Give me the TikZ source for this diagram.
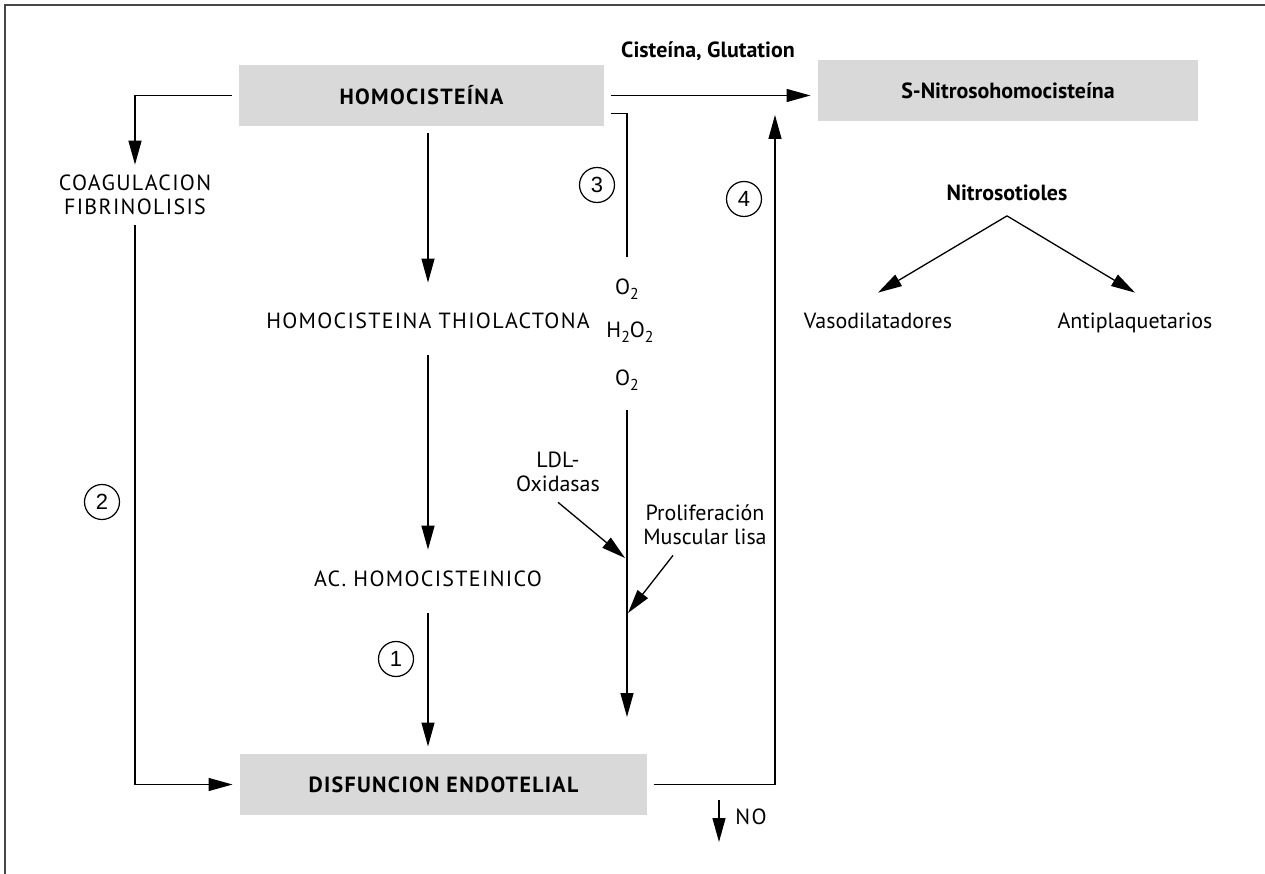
\documentclass[tikz,border=0pt]{standalone}
\usepackage{fontspec}
\setmainfont{PT Sans}
\newfontfamily\capsfont{PT Sans}[LetterSpace=6]
\newfontfamily\numfont{Liberation Sans}
\usepackage{xcolor}
\usetikzlibrary{positioning, arrows.meta}
\definecolor{boxgray}{RGB}{217,217,217}
\definecolor{framegray}{RGB}{70,70,70}
\newcommand{\subtwo}{\raisebox{-0.45ex}{\fontsize{9}{9}\selectfont 2}}

\begin{document}
\begin{tikzpicture}[
    x=0.02cm, y=-0.02cm,
    every node/.style={font=\fontsize{12.5}{13.7}\selectfont},
    box/.style={rectangle, fill=boxgray, minimum height=1.22cm, outer sep=0.15cm,
                font=\capsfont\fontsize{12.5}{13.7}\selectfont\bfseries},
    txt/.style={align=center, inner xsep=0.08cm, inner ysep=0.2cm},
    one/.style={txt, text height=9pt, text depth=3pt},
    caps/.style={font=\capsfont\fontsize{12.5}{13.7}\selectfont},
    bold/.style={font=\fontsize{12.5}{13.7}\selectfont\bfseries},
    num/.style={circle, draw, line width=0.7pt, minimum size=0.7cm, inner sep=0pt,
                font=\numfont\fontsize{12.5}{14}\selectfont},
    arr/.style={-{Triangle[length=4.8mm, width=2.6mm]}, line width=0.75pt},
    line/.style={line width=0.75pt},
    frame/.style={line width=1.1pt, draw=framegray},
]
\useasboundingbox (0,0) rectangle (1265,874);
\draw[frame] (5,874) -- (5,5) -- (1265,5);

% Row 1: Homocisteina and its nitroso form
\node[box, minimum width=7.3cm] (hcy) at (421.5,95.5) {HOMOCISTEÍNA};
\node[box, minimum width=7.6cm, font=\fontsize{12.5}{13.7}\selectfont\bfseries] (snh) at (1008,90.5) {S-Nitrosohomocisteína};
\node[one, bold] (cis) at (708,52) {Cisteína, Glutation};

% Left branch
\node[txt, caps] (coag) at (135,195) {COAGULACION\\FIBRINOLISIS};

% Middle chain
\node[one, caps] (thio) at (428,323) {HOMOCISTEINA THIOLACTONA};
\node[one, caps] (achc) at (428,581) {AC. HOMOCISTEINICO};

% Oxygen species
\node[one] (o2a) at (627,289) {O\subtwo};
\node[one] (h2o2) at (630,332) {H\subtwo O\subtwo};
\node[one] (o2b) at (627,380) {O\subtwo};
\node[txt] (ldl) at (558,472) {LDL-\\Oxidasas};
\node[txt] (prol) at (705,525) {Proliferación\\Muscular lisa};
\coordinate (pin1) at (625,558);
\coordinate (pin2) at (628,613);

% Nitrosotioles
\node[one, bold] (nitro) at (1007,195) {Nitrosotioles};
\node[one] (vaso) at (878,323) {Vasodilatadores};
\node[one] (anti) at (1135,323) {Antiplaquetarios};

% Bottom
\node[box, minimum width=8.14cm] (dis) at (443.5,784.5) {DISFUNCION ENDOTELIAL};
\node[one, caps] (no) at (751,819) {NO};
\coordinate (notop) at (719,800);
\coordinate (nobot) at (719,842);
\coordinate (s4) at (775,115);

% Numbers
\node[num] (c1) at (396,659) {1};
\node[num] (c2) at (102,502) {2};
\node[num] (c3) at (597,185) {3};
\node[num] (c4) at (744,199) {4};

% Arrows
\draw[arr] (hcy.west) -| (coag.north);
\draw[arr] (coag.south) |- (dis.west);
\draw[arr, shorten >=0.39cm] (thio.north |- hcy.south) -- (thio.north);
\draw[arr, shorten <=0.23cm, shorten >=0.21cm] (thio.south) -- (achc.north);
\draw[arr, shorten <=0.23cm] (achc.south) -- (achc.south |- dis.north);
\draw[line, shorten >=0.23cm] ([yshift=-0.36cm]hcy.east) -| (o2a.north);
\draw[arr, shorten <=0.19cm, shorten >=0.59cm] (o2b.south) -- (o2b.south |- dis.north);
\draw[arr] (ldl.south) -- (pin1);
\draw[arr] ([xshift=-0.64cm]prol.south) -- (pin2);
\draw[arr] (hcy.east) -- (hcy.east -| snh.west);
\draw[arr] (dis.east) -| (s4);
\draw[arr] (nitro.south) -- ([yshift=0.19cm]vaso.north);
\draw[arr] (nitro.south) -- ([yshift=0.19cm]anti.north);
\draw[arr] (notop) -- (nobot);

\end{tikzpicture}
\end{document}
